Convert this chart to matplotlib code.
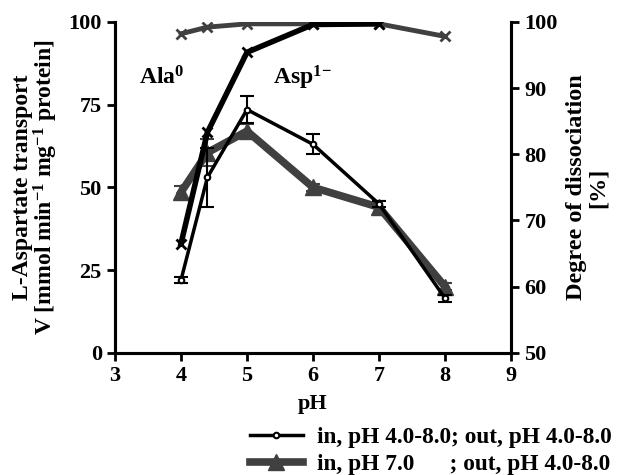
import numpy as np
import matplotlib
matplotlib.use("Agg")
import matplotlib.pyplot as plt

plt.rcParams['font.family'] = 'Liberation Serif'
plt.rcParams['font.weight'] = 'bold'
plt.rcParams['axes.labelweight'] = 'bold'
plt.rcParams['mathtext.fontset'] = 'custom'
plt.rcParams['mathtext.rm'] = 'Liberation Serif:bold'
plt.rcParams['mathtext.bf'] = 'Liberation Serif:bold'
plt.rcParams['mathtext.default'] = 'bf'

# transport data (left axis)
ph = [4.0, 4.4, 5.0, 6.0, 7.0, 8.0]
v_in_var = [22, 53, 73.5, 63, 45, 16.5]
err_in_var = [1, 9, 4, 3, 1, 1]
v_in_7 = [48.5, 60.5, 67, 50, 44, 20]
err_in_7 = [2, 4, 2, 1, 2, 1]

# degree of dissociation (right axis)
ph_ala = [4.0, 4.4, 5.0, 6.0, 7.0, 8.0]
ala0 = [98.2, 99.2, 99.7, 99.7, 99.7, 97.8]
ph_asp = [4.0, 4.4, 5.0, 6.0, 7.0]
asp1 = [66.5, 83.3, 95.4, 99.6, 99.7]

fig = plt.figure(figsize=(6.18, 4.75), dpi=100)
ax = fig.add_axes([0.186, 0.257, 0.641, 0.697])
ax2 = ax.twinx()

# dissociation curves
ax2.plot(ph_ala, ala0, '-x', color='#404040', lw=3.5, ms=7, mew=2)
ax2.plot(ph_asp, asp1, '-x', color='black', lw=4, ms=7, mew=2)

# transport curves
ax.errorbar(ph, v_in_7, yerr=err_in_7, fmt='-^', color='#404040', lw=5.5,
            ms=11, capsize=5, elinewidth=1.5, capthick=1.5, zorder=3)
ax.errorbar(ph, v_in_var, yerr=err_in_var, fmt='-o', color='black', lw=2.5,
            ms=4, mfc='white', mew=1.5, capsize=5, elinewidth=1.5,
            capthick=1.5, zorder=4)

ax.text(3.37, 81, r'Ala$^0$', fontsize=17)
ax.text(5.4, 81, r'Asp$^{1\!-}$', fontsize=17)

ax.set_xlim(3, 9)
ax.set_ylim(0, 100)
ax2.set_ylim(50, 100)
ax.set_xticks(range(3, 10))
ax.set_yticks([0, 25, 50, 75, 100])
ax2.set_yticks([50, 60, 70, 80, 90, 100])

for a in (ax, ax2):
    a.spines['top'].set_visible(False)
    for s in ('left', 'right', 'bottom'):
        a.spines[s].set_linewidth(2.2)
    a.tick_params(width=2, length=6, labelsize=16)
ax.set_xlabel('pH', fontsize=16, fontweight='bold', labelpad=6)
ax.set_ylabel('L-Aspartate transport\nV [mmol min$^{-1}$ mg$^{-1}$ protein]',
              fontsize=17, fontweight='bold', linespacing=0.95, labelpad=6)
ax2.set_ylabel('Degree of dissociation\n[%]', fontsize=17.5, fontweight='bold',
               linespacing=1.05, labelpad=6)

# legend
h1 = plt.Line2D([], [], color='black', lw=2.5, marker='o', ms=4, mfc='white', mew=1.5)
h2 = plt.Line2D([], [], color='#404040', lw=5.5, marker='^', ms=11)
fig.legend([h1, h2], ['in, pH 4.0-8.0; out, pH 4.0-8.0',
                      'in, pH 7.0      ; out, pH 4.0-8.0'],
           loc='lower left', bbox_to_anchor=(0.37, -0.045), frameon=False,
           prop={'family': 'Liberation Serif', 'weight': 'bold', 'size': 16.8},
           handlelength=2.3, handletextpad=0.6, labelspacing=0.25)

fig.savefig('out.png', dpi=100)
